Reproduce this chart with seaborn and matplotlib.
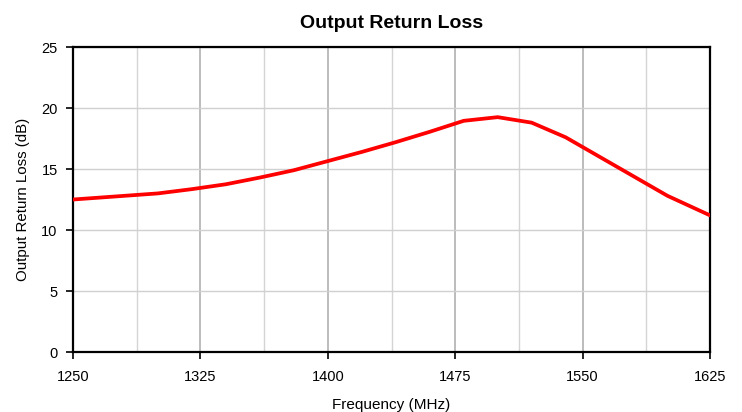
import matplotlib
matplotlib.use("Agg")
import matplotlib.pyplot as plt
import seaborn as sns
import pandas as pd
from matplotlib.ticker import FixedLocator

# Measured output return loss versus frequency
freq_mhz = [1250, 1280, 1300, 1320, 1340, 1360, 1380, 1400, 1420, 1440,
            1460, 1480, 1500, 1520, 1540, 1560, 1580, 1600, 1625]
return_loss_db = [12.5, 12.8, 13.0, 13.35, 13.75, 14.3, 14.9, 15.65, 16.4, 17.2,
                  18.05, 18.95, 19.25, 18.8, 17.6, 16.0, 14.4, 12.8, 11.2]
x_ticks = [1250, 1325, 1400, 1475, 1550, 1625]
x_minor = [1287.5, 1362.5, 1437.5, 1512.5, 1587.5]
y_ticks = [0, 5, 10, 15, 20, 25]

df = pd.DataFrame({"Frequency (MHz)": freq_mhz, "Output Return Loss (dB)": return_loss_db})

sns.set_theme(style="white")
plt.rcParams["font.family"] = ["Liberation Sans", "DejaVu Sans"]

fig = plt.figure(figsize=(7.42, 4.12), dpi=100)
ax = fig.add_axes([0.0984, 0.1456, 0.8585, 0.7403])

# Grid: light horizontal lines, alternating major/minor vertical lines
ax.xaxis.set_minor_locator(FixedLocator(x_minor))
ax.grid(True, which="minor", axis="x", color="#d4d4d4", linewidth=1.0)
ax.grid(True, which="major", axis="x", color="#bcbcbc", linewidth=1.4)
ax.grid(True, which="major", axis="y", color="#d0d0d0", linewidth=1.0)
ax.set_axisbelow(True)

sns.lineplot(data=df, x="Frequency (MHz)", y="Output Return Loss (dB)",
             color="#ff0000", linewidth=2.7, ax=ax, zorder=3)

ax.set_xlim(1250, 1625)
ax.set_ylim(0, 25)
ax.set_xticks(x_ticks)
ax.set_yticks(y_ticks)

for side in ["left", "right", "top", "bottom"]:
    ax.spines[side].set_visible(True)
    ax.spines[side].set_color("black")
    ax.spines[side].set_linewidth(1.6)

ax.tick_params(axis="both", which="major", direction="out", length=5, width=1.2,
               color="black", labelsize=10.5, labelcolor="black", pad=6)
ax.tick_params(axis="x", which="minor", length=0)
ax.tick_params(axis="x", pad=8)
ax.tick_params(axis="x", which="major", bottom=True)
ax.tick_params(axis="y", which="major", left=True)

ax.set_xlabel("Frequency (MHz)", fontsize=11, color="black", labelpad=10)
ax.set_ylabel("Output Return Loss (dB)", fontsize=10.8, color="black", labelpad=8)
ax.set_title("Output Return Loss", fontsize=14, fontweight="bold", color="black", pad=14)

fig.savefig("out.png", dpi=100)
